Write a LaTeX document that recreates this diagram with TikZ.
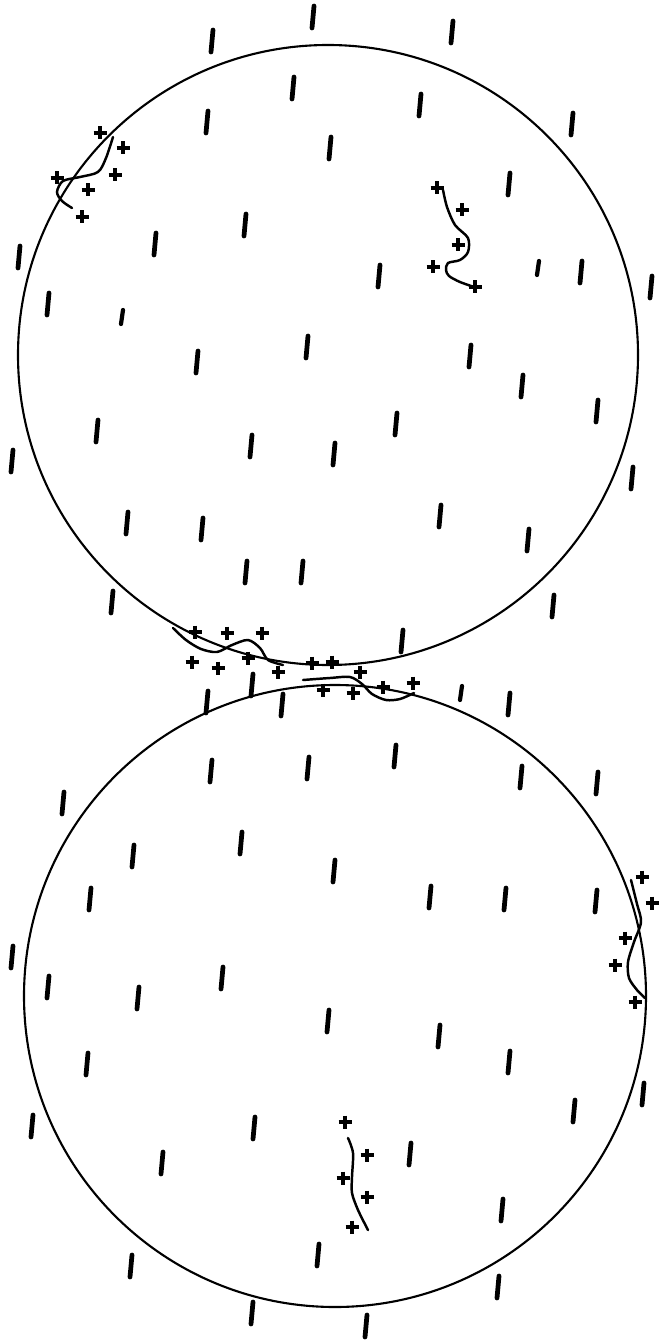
\documentclass[tikz,border=0pt]{standalone}
\usetikzlibrary{calc}
\tikzset{
  rim/.style={line width=1.2pt},
  vmark/.style={line width=2.7pt, line cap=round},
  smallmark/.style={line width=2.4pt, line cap=round},
  wavy/.style={line width=1.4pt, line cap=round},
  pmark/.pic={\draw[line width=2pt] (-6.5,0) -- (6.5,0) (0,-6.5) -- (0,6.5);},
}

\begin{document}
\begin{tikzpicture}[x=0.02cm, y=-0.02cm]
\useasboundingbox (0,0) rectangle (659,1344);

% Circles
\coordinate (upper) at (328,355);
\coordinate (lower) at (335,996);
\draw[rim] (upper) circle (310);
\draw[rim] (lower) circle (311);

% Marks, upper region
\foreach \x/\y in {313/17, 452/32, 212/41, 293/88, 420/105, 207/122, 572/124,
  330/148, 509/184, 245/225, 155/244, 19/257, 379/276, 581/272, 651/287,
  48/304, 307/347, 197/362, 470/356, 522/386, 597/411, 396/424, 97/431,
  251/446, 334/454, 12/461, 632/478, 440/516, 127/523, 202/529, 528/540,
  246/572, 302/572, 112/602, 553/606, 402/641, 207/702, 252/685, 282/705}
  \draw[vmark] (\x+1,\y-11) -- (\x-1,\y+11);
\foreach \x/\y in {122/317, 538/268, 461/693}
  \draw[smallmark] (\x+1,\y-7) -- (\x-1,\y+7);

% Marks, lower region
\foreach \x/\y in {509/704, 395/756, 211/771, 308/768, 521/777, 597/783,
  63/803, 241/843, 133/856, 334/871, 90/899, 430/897, 505/899, 596/901,
  12/957, 48/987, 222/978, 138/998, 328/1021, 439/1036, 509/1062, 87/1064,
  643/1094, 574/1111, 32/1126, 254/1128, 410/1154, 162/1163, 502/1210,
  318/1255, 131/1266, 498/1287, 252/1313, 366/1326}
  \draw[vmark] (\x+1,\y-11) -- (\x-1,\y+11);

% Upper left patch
\draw[wavy] plot[smooth] coordinates {(113,137) (106,158) (98,172) (80,177)
  (63,181) (57,192) (62,201) (72,208)};
\foreach \x/\y in {100/133, 123/148, 115/175, 57/178, 88/190, 82/217}
  \pic at (\x,\y) {pmark};

% Upper right patch
\draw[wavy] plot[smooth] coordinates {(443,190) (447,207) (455,225) (468,238)
  (468,252) (460,260) (448,263) (446,270) (449,276) (460,282) (477,288)};
\foreach \x/\y in {437/188, 462/210, 458/245, 433/267, 475/287}
  \pic at (\x,\y) {pmark};

% Contact patch
\draw[wavy] plot[smooth] coordinates {(173,628) (186,640) (201,649) (217,652)
  (232,645) (248,640) (260,648) (268,660) (283,665)};
\draw[wavy] plot[smooth] coordinates {(303,680) (330,678) (350,677) (362,684)
  (372,694) (386,700) (400,699) (414,693)};
\foreach \x/\y in {195/632, 227/633, 262/633, 192/662, 218/668, 248/658,
  278/672, 312/663, 332/662, 360/672, 323/690, 353/693, 383/687, 413/683}
  \pic at (\x,\y) {pmark};

% Right patch
\draw[wavy] plot[smooth] coordinates {(631,880) (637,904) (641,922) (634,942)
  (628,962) (629,978) (637,990) (645,998)};
\foreach \x/\y in {642/877, 652/903, 625/938, 615/965, 635/1002}
  \pic at (\x,\y) {pmark};

% Bottom patch
\draw[wavy] plot[smooth] coordinates {(348,1138) (353,1153) (352,1177)
  (352,1193) (358,1210) (368,1230)};
\foreach \x/\y in {345/1122, 367/1155, 343/1178, 367/1197, 352/1227}
  \pic at (\x,\y) {pmark};

\end{tikzpicture}
\end{document}
